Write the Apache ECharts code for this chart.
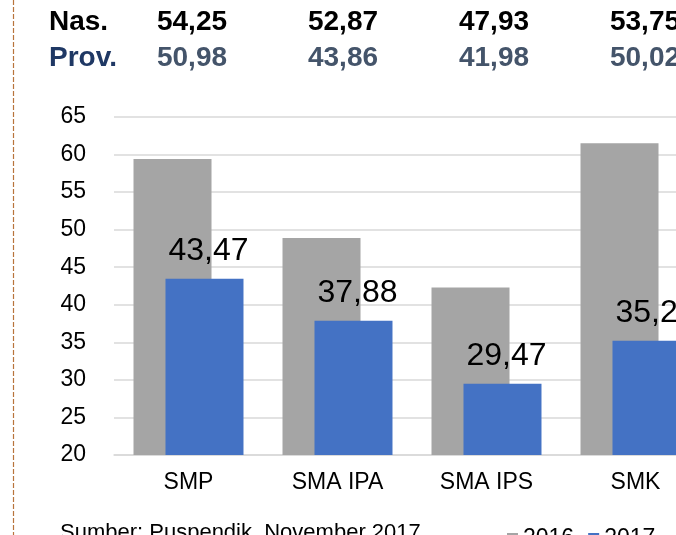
<!DOCTYPE html>
<html>
<head>
<meta charset="utf-8">
<script src="https://cdn.jsdelivr.net/npm/echarts@6/dist/echarts.min.js"></script>
<style>
  html, body { margin: 0; padding: 0; background: #fff; }
  #chart { width: 676px; height: 535px; }
</style>
</head>
<body>
<div id="chart"></div>
<script>
const categories = ['SMP', 'SMA IPA', 'SMA IPS', 'SMK']
const values2016 = [59.4, 48.9, 42.3, 61.5]
const values2017 = [43.47, 37.88, 29.47, 35.21]
const nasValues = ['54,25', '52,87', '47,93', '53,75']
const provValues = ['50,98', '43,86', '41,98', '50,02']
const yTicks = { min: 20, max: 65, interval: 5 }

const font = '"Liberation Sans", Arial, sans-serif'
const chart = echarts.init(document.getElementById('chart'))

// top table: Nas. / Prov. rows
const tableTexts = []
tableTexts.push({ type: 'text', left: 49, top: 8, style: { text: 'Nas.', font: 'bold 28px ' + font, fill: '#000' } })
tableTexts.push({ type: 'text', left: 49, top: 44, style: { text: 'Prov.', font: 'bold 28px ' + font, fill: '#1f3864' } })
nasValues.forEach((v, i) => {
  tableTexts.push({ type: 'text', x: 192 + 151 * i, y: 8, style: { text: v, font: 'bold 28px ' + font, fill: '#000', align: 'center' } })
})
provValues.forEach((v, i) => {
  tableTexts.push({ type: 'text', x: 192 + 151 * i, y: 44, style: { text: v, font: 'bold 28px ' + font, fill: '#44546a', align: 'center' } })
})

chart.setOption({
  animation: false,
  textStyle: { fontFamily: font },
  // the slide is cropped: the grid runs past the right edge
  grid: { left: 114, width: 596, top: 117, bottom: 80, outerBoundsMode: 'none', containLabel: false },
  legend: {
    data: ['2016', '2017'],
    left: 507,
    top: 527,
    padding: 0,
    icon: 'rect',
    itemWidth: 11,
    itemHeight: 11,
    itemGap: 14,
    textStyle: { fontSize: 23, color: '#000' }
  },
  xAxis: {
    type: 'category',
    data: categories,
    axisTick: { show: false },
    axisLine: { lineStyle: { color: '#d9d9d9', width: 1.5 } },
    axisLabel: { fontSize: 23, color: '#000', margin: 16 }
  },
  yAxis: {
    type: 'value',
    min: yTicks.min,
    max: yTicks.max,
    interval: yTicks.interval,
    axisLabel: { fontSize: 23, color: '#000', margin: 28 },
    splitLine: { lineStyle: { color: '#d9d9d9', width: 1.5 } }
  },
  series: [
    {
      name: '2016',
      type: 'bar',
      data: values2016,
      barWidth: 78,
      barGap: '-59%',
      itemStyle: { color: '#a5a5a5' }
    },
    {
      name: '2017',
      type: 'bar',
      data: values2017,
      barWidth: 78,
      itemStyle: { color: '#4472c4' },
      label: {
        show: true,
        position: 'top',
        distance: 12,
        offset: [4, 0],
        fontSize: 32,
        color: '#000',
        formatter: p => p.value.toFixed(2).replace('.', ',')
      }
    }
  ],
  graphic: [
    {
      type: 'line',
      shape: { x1: 13.5, y1: 0, x2: 13.5, y2: 535 },
      style: { stroke: '#b8743c', lineWidth: 1.2, lineDash: [5, 2] }
    },
    { type: 'text', left: 60, top: 522, style: { text: 'Sumber: Puspendik, November 2017', font: '22px ' + font, fill: '#000' } }
  ].concat(tableTexts)
})
</script>
</body>
</html>
